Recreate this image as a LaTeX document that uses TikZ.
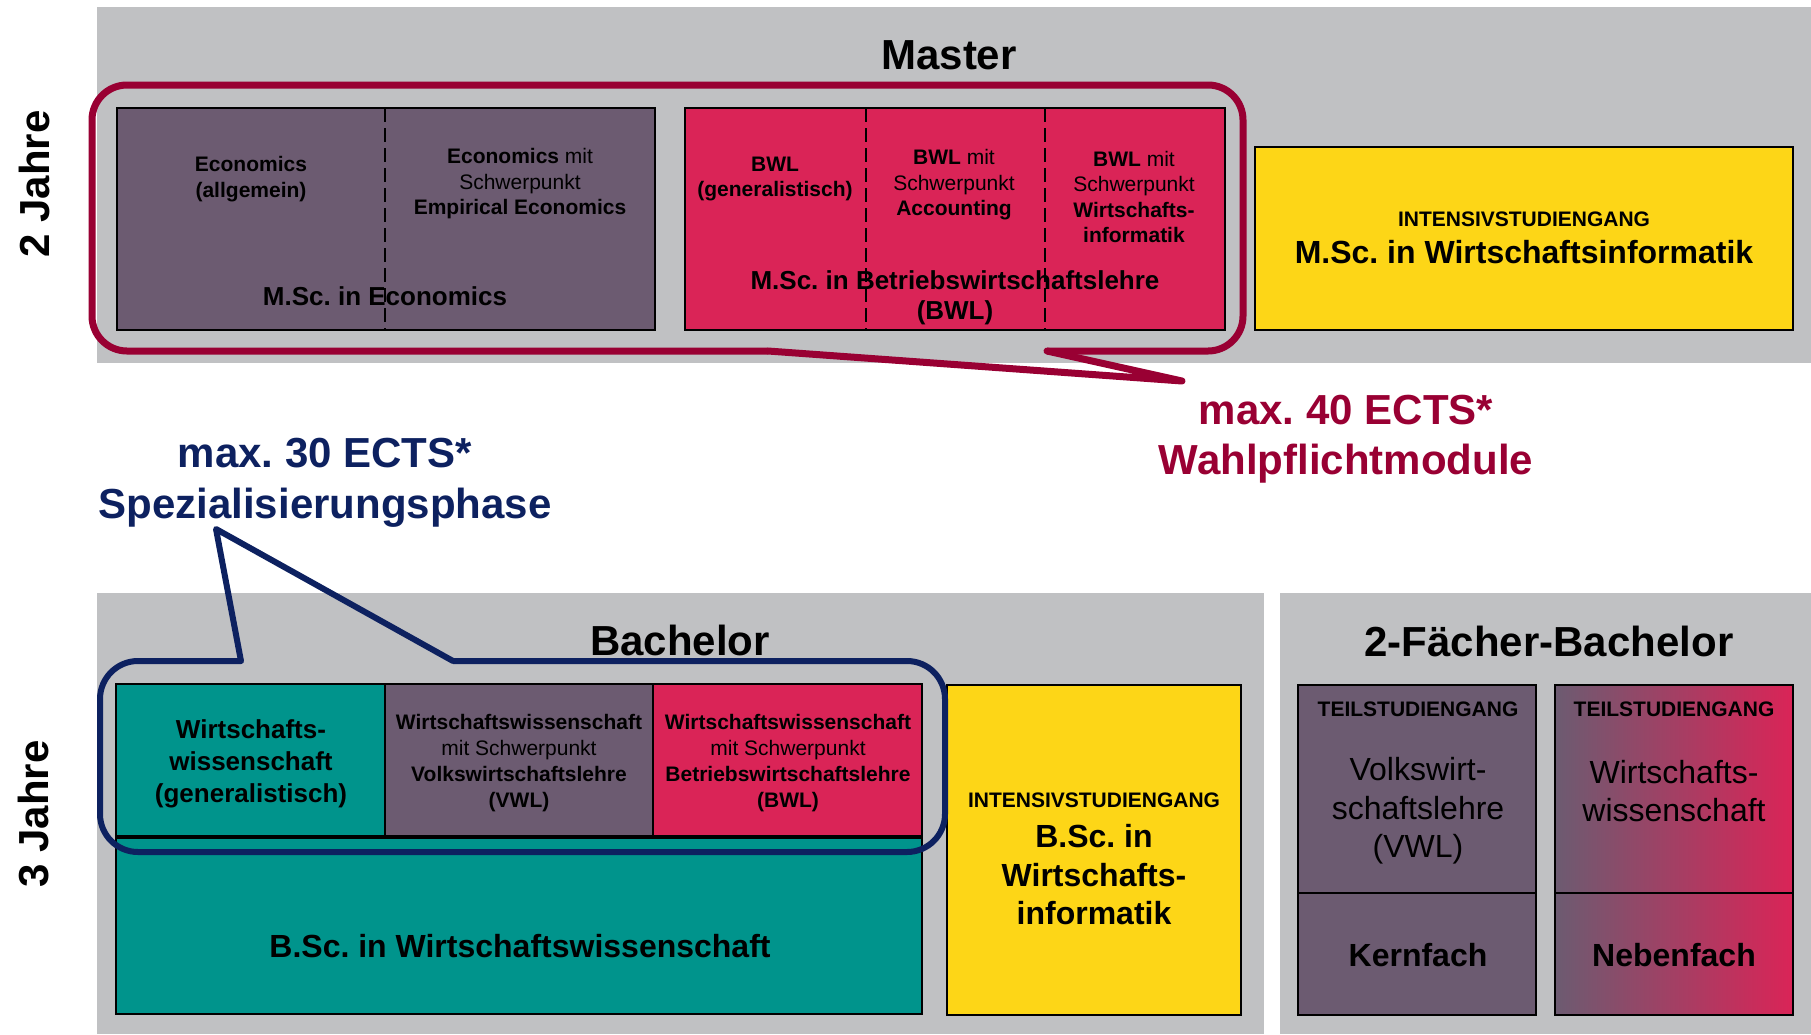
\documentclass[tikz,border=0pt]{standalone}
\usepackage{fontspec}
\setmainfont{Liberation Sans}
\frenchspacing

\definecolor{panelgray}{RGB}{192,193,195}
\definecolor{purp}{RGB}{108,91,113}
\definecolor{crim}{RGB}{218,36,87}
\definecolor{yell}{RGB}{253,214,23}
\definecolor{tealbox}{RGB}{0,148,140}
\definecolor{wine}{RGB}{153,0,51}
\definecolor{navy}{RGB}{13,33,96}

\tikzset{
  blk/.style={draw=black, line width=2.5},
  sep/.style={black, line width=2.5, dash pattern=on 14pt off 6pt},
  titletxt/.style={font=\fontsize{42}{51}\selectfont\bfseries},
  smalltxt/.style={font=\fontsize{21}{25.5}\selectfont},
  midtxt/.style={font=\fontsize{26}{31}\selectfont\bfseries},
  bigtxt/.style={font=\fontsize{32}{38.5}\selectfont},
}

\begin{document}
\begin{tikzpicture}[x=1pt, y=-1pt, every node/.style={inner sep=0pt, align=center}]
  \useasboundingbox (0,0) rectangle (1811,1034);

  % gray panels
  \fill[panelgray] (97,7) rectangle (1811,363);
  \fill[panelgray] (97,593) rectangle (1264,1034);
  \fill[panelgray] (1280,593) rectangle (1811,1034);

  % master programmes
  \filldraw[blk, fill=purp] (117,108) rectangle (655,330);
  \filldraw[blk, fill=crim] (685,108) rectangle (1225,330);
  \filldraw[blk, fill=yell] (1255,147) rectangle (1793,330);

  % bachelor programmes
  \filldraw[blk, fill=tealbox] (116,684) rectangle (385,836);
  \filldraw[blk, fill=purp] (385,684) rectangle (653,836);
  \filldraw[blk, fill=crim] (653,684) rectangle (922,836);
  \filldraw[blk, fill=tealbox] (116,838) rectangle (922,1014);
  \filldraw[blk, fill=yell] (947,685) rectangle (1241,1015);

  % 2-Faecher-Bachelor
  \filldraw[blk, fill=purp] (1298,685) rectangle (1536,893);
  \filldraw[blk, fill=purp] (1298,893) rectangle (1536,1015);
  \draw[blk, left color=purp, right color=crim] (1555,685) rectangle (1793,893);
  \draw[blk, left color=purp, right color=crim] (1555,893) rectangle (1793,1015);

  % year labels
  \node[titletxt, rotate=90] (yrmaster) at (34,184) {2 Jahre};
  \node[titletxt, rotate=90] (yrbachelor) at (34,814) {3 Jahre};

  % titles
  \node[titletxt] (master) at (949,55) {Master};
  \node[titletxt] (bachelor) at (680,640) {Bachelor};
  \node[titletxt] (twobachelor) at (1549,641) {2-Fächer-Bachelor};

  % master texts
  \node[smalltxt, font=\fontsize{21}{25.5}\selectfont\bfseries] (ecoall) at (251,179) {Economics\\(allgemein)};
  \node[smalltxt] (ecoemp) at (520,184) {\textbf{Economics} mit\\Schwerpunkt\\\textbf{Empirical Economics}};
  \node[midtxt] (msceco) at (385,296) {M.Sc. in Economics};
  \node[smalltxt, font=\fontsize{21}{25.5}\selectfont\bfseries] (bwlgen) at (775,179) {BWL\\(generalistisch)};
  \node[smalltxt] (bwlacc) at (954,185) {\textbf{BWL} mit\\Schwerpunkt\\\textbf{Accounting}};
  \node[smalltxt] (bwlwi) at (1134,197) {\textbf{BWL} mit\\Schwerpunkt\\\textbf{Wirtschafts-}\\\textbf{informatik}};
  \node[midtxt, font=\fontsize{26}{30}\selectfont\bfseries] (mscbwl) at (955,298) {M.Sc. in Betriebswirtschaftslehre\\(BWL)};
  \node[smalltxt, font=\fontsize{21}{25}\selectfont\bfseries] (intmaster) at (1524,219) {INTENSIVSTUDIENGANG};
  \node[bigtxt, font=\fontsize{32}{38}\selectfont\bfseries] (mscwi) at (1524,252) {M.Sc. in Wirtschaftsinformatik};

  % bachelor texts
  \node[midtxt, font=\fontsize{26}{32}\selectfont\bfseries] (wiwigen) at (251,764) {Wirtschafts-\\wissenschaft\\(generalistisch)};
  \node[smalltxt, font=\fontsize{21}{26}\selectfont] (wiwivwl) at (519,763) {\textbf{Wirtschaftswissenschaft}\\mit Schwerpunkt\\\textbf{Volkswirtschaftslehre}\\\textbf{(VWL)}};
  \node[smalltxt, font=\fontsize{21}{26}\selectfont] (wiwibwl) at (788,763) {\textbf{Wirtschaftswissenschaft}\\mit Schwerpunkt\\\textbf{Betriebswirtschaftslehre}\\\textbf{(BWL)}};
  \node[bigtxt, font=\fontsize{32}{38}\selectfont\bfseries] (bscwiwi) at (520,946) {B.Sc. in Wirtschaftswissenschaft};
  \node[smalltxt, font=\fontsize{21}{25}\selectfont\bfseries] (intbachelor) at (1094,800) {INTENSIVSTUDIENGANG};
  \node[bigtxt, font=\fontsize{32}{38.5}\selectfont\bfseries] (bscwi) at (1094,875) {B.Sc. in\\Wirtschafts-\\informatik};

  % 2-Faecher texts
  \node[smalltxt, font=\fontsize{21}{25}\selectfont\bfseries] (teilvwl) at (1418,709) {TEILSTUDIENGANG};
  \node[smalltxt, font=\fontsize{21}{25}\selectfont\bfseries] (teilwiwi) at (1674,709) {TEILSTUDIENGANG};
  \node[bigtxt] (vwl) at (1418,811) {Volkswirt-\\schaftslehre\\(VWL)};
  \node[bigtxt] (wiwi) at (1674,791) {Wirtschafts-\\wissenschaft};
  \node[bigtxt, font=\fontsize{32}{38}\selectfont\bfseries] (kern) at (1418,955) {Kernfach};
  \node[bigtxt, font=\fontsize{32}{38}\selectfont\bfseries] (neben) at (1674,955) {Nebenfach};

  % dashed separators
  \draw[sep] (385,108) -- (385,330);
  \draw[sep] (866,108) -- (866,330);
  \draw[sep] (1045,108) -- (1045,330);

  % callout Wahlpflichtmodule
  \draw[wine, line width=7, rounded corners=35] (768,351) -- (92,351) -- (92,85) -- (1243,85) -- (1243,351) -- (1047,351);
  \draw[wine, line width=7, line join=round, line cap=round] (768,351) -- (1182,381) -- (1047,351);
  \node[titletxt, wine, font=\fontsize{42}{50}\selectfont\bfseries] (wahl) at (1346,439) {max. 40 ECTS*\\Wahlpflichtmodule};

  % callout Spezialisierungsphase
  \draw[navy, line width=6, rounded corners=38] (241,661) -- (100,661) -- (100,852) -- (945,852) -- (945,661) -- (453,661);
  \draw[navy, line width=6, line join=round, line cap=round] (241,661) -- (216,529) -- (453,661);
  \node[titletxt, navy, font=\fontsize{42}{51}\selectfont\bfseries] (spez) at (325,483) {max. 30 ECTS*\\Spezialisierungsphase};
\end{tikzpicture}
\end{document}
